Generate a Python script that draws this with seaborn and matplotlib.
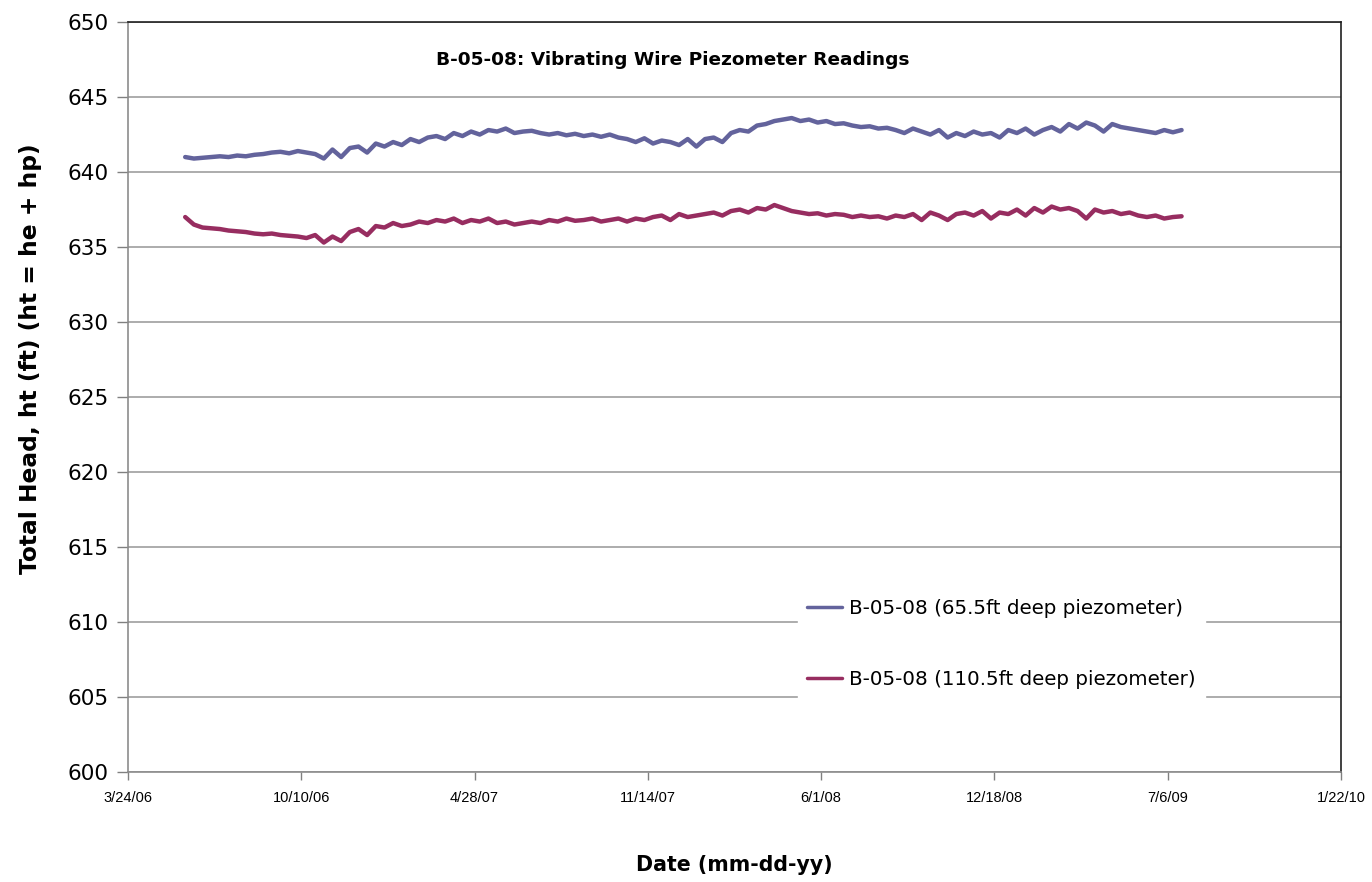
import pandas as pd
import seaborn as sns
import matplotlib
matplotlib.use("Agg")
import matplotlib.pyplot as plt

start_date = "2006-05-29"
step = "10D"

shallow_label = "B-05-08 (65.5ft deep piezometer)"
deep_label = "B-05-08 (110.5ft deep piezometer)"

shallow_head = [
    641.0, 640.9, 640.95, 641.0, 641.05, 641.0, 641.1, 641.05, 641.15, 641.2,
    641.3, 641.35, 641.25, 641.4, 641.3, 641.2, 640.9, 641.5, 641.0, 641.6,
    641.7, 641.3, 641.9, 641.7, 642.0, 641.8, 642.2, 642.0, 642.3, 642.4,
    642.2, 642.6, 642.4, 642.7, 642.5, 642.8, 642.7, 642.9, 642.6, 642.7,
    642.75, 642.6, 642.5, 642.6, 642.45, 642.55, 642.4, 642.5, 642.35, 642.5,
    642.3, 642.2, 642.0, 642.25, 641.9, 642.1, 642.0, 641.8, 642.2, 641.7,
    642.2, 642.3, 642.0, 642.6, 642.8, 642.7, 643.1, 643.2, 643.4, 643.5,
    643.6, 643.4, 643.5, 643.3, 643.4, 643.2, 643.25, 643.1, 643.0, 643.05,
    642.9, 642.95, 642.8, 642.6, 642.9, 642.7, 642.5, 642.8, 642.3, 642.6,
    642.4, 642.7, 642.5, 642.6, 642.3, 642.8, 642.6, 642.9, 642.5, 642.8,
    643.0, 642.7, 643.2, 642.9, 643.3, 643.1, 642.7, 643.2, 643.0, 642.9,
    642.8, 642.7, 642.6, 642.8, 642.65, 642.8,
]

deep_head = [
    637.0, 636.5, 636.3, 636.25, 636.2, 636.1, 636.05, 636.0, 635.9, 635.85,
    635.9, 635.8, 635.75, 635.7, 635.6, 635.8, 635.3, 635.7, 635.4, 636.0,
    636.2, 635.8, 636.4, 636.3, 636.6, 636.4, 636.5, 636.7, 636.6, 636.8,
    636.7, 636.9, 636.6, 636.8, 636.7, 636.9, 636.6, 636.7, 636.5, 636.6,
    636.7, 636.6, 636.8, 636.7, 636.9, 636.75, 636.8, 636.9, 636.7, 636.8,
    636.9, 636.7, 636.9, 636.8, 637.0, 637.1, 636.8, 637.2, 637.0, 637.1,
    637.2, 637.3, 637.1, 637.4, 637.5, 637.3, 637.6, 637.5, 637.8, 637.6,
    637.4, 637.3, 637.2, 637.25, 637.1, 637.2, 637.15, 637.0, 637.1, 637.0,
    637.05, 636.9, 637.1, 637.0, 637.2, 636.8, 637.3, 637.1, 636.8, 637.2,
    637.3, 637.1, 637.4, 636.9, 637.3, 637.2, 637.5, 637.1, 637.6, 637.3,
    637.7, 637.5, 637.6, 637.4, 636.9, 637.5, 637.3, 637.4, 637.2, 637.3,
    637.1, 637.0, 637.1, 636.9, 637.0, 637.05,
]

x_ticks = ["2006-03-24", "2006-10-10", "2007-04-28", "2007-11-14",
           "2008-06-01", "2008-12-18", "2009-07-06", "2010-01-22"]
y_ticks = [600, 605, 610, 615, 620, 625, 630, 635, 640, 645, 650]

colors = {shallow_label: "#63639c", deep_label: "#972d60"}

dates = pd.date_range(start=start_date, periods=len(shallow_head), freq=step)
df = pd.concat([
    pd.DataFrame({"date": dates, "head": shallow_head, "series": shallow_label}),
    pd.DataFrame({"date": dates, "head": deep_head, "series": deep_label}),
])

sns.set_style("white")
plt.rcParams["font.family"] = ["DejaVu Sans"]
plt.rcParams["text.color"] = "black"
plt.rcParams["axes.labelcolor"] = "black"

fig = plt.figure(figsize=(13.72, 8.82), dpi=100)
ax = fig.add_axes([0.0933, 0.1247, 0.8841, 0.8503])

sns.lineplot(data=df, x="date", y="head", hue="series", palette=colors,
             linewidth=3.2, ax=ax)

ax.set_ylim(600, 650)
ax.set_yticks(y_ticks)
ax.set_xlim(pd.Timestamp(x_ticks[0]), pd.Timestamp(x_ticks[-1]))
tick_dates = [pd.Timestamp(d) for d in x_ticks]
ax.set_xticks(tick_dates)
ax.set_xticklabels([f"{d.month}/{d.day}/{d:%y}" for d in tick_dates],
                   family=["Liberation Sans Narrow", "Liberation Sans"], fontsize=10.5)
ax.tick_params(axis="y", labelsize=15.5, length=8, width=1, color="#808080",
               labelcolor="black", direction="out", left=True, pad=6)
ax.tick_params(axis="x", length=6, width=1, color="#808080",
               labelcolor="black", direction="out", bottom=True, pad=8)

ax.yaxis.grid(True, color="#a6a6a6", linewidth=1.3)
ax.set_axisbelow(True)
for side in ["left", "bottom"]:
    ax.spines[side].set_color("#8c8c8c")
    ax.spines[side].set_linewidth(1.2)
for side in ["top", "right"]:
    ax.spines[side].set_color("#202020")
    ax.spines[side].set_linewidth(1.2)

ax.set_xlabel("Date (mm-dd-yy)", fontsize=14.8, fontweight="bold", labelpad=36)
ax.set_ylabel("Total Head, ht (ft) (ht = he + hp)", fontsize=16.8,
              fontweight="bold")
ax.yaxis.set_label_coords(-0.071, 0.551)
ax.text(0.449, 0.95, "B-05-08: Vibrating Wire Piezometer Readings",
        transform=ax.transAxes, ha="center", va="center",
        fontsize=13.3, fontweight="bold")

leg = ax.legend(loc="upper left", bbox_to_anchor=(0.552, 0.243),
                frameon=True, fontsize=14.3, labelspacing=2.65,
                handlelength=1.8, handletextpad=0.35, borderpad=0.45,
                borderaxespad=0)
leg.get_frame().set_facecolor("white")
leg.get_frame().set_edgecolor("white")
leg.get_frame().set_alpha(1)
leg.get_frame().set_boxstyle("square", pad=0)
for line in leg.get_lines():
    line.set_linewidth(2.5)

fig.savefig("out.png", dpi=100)
